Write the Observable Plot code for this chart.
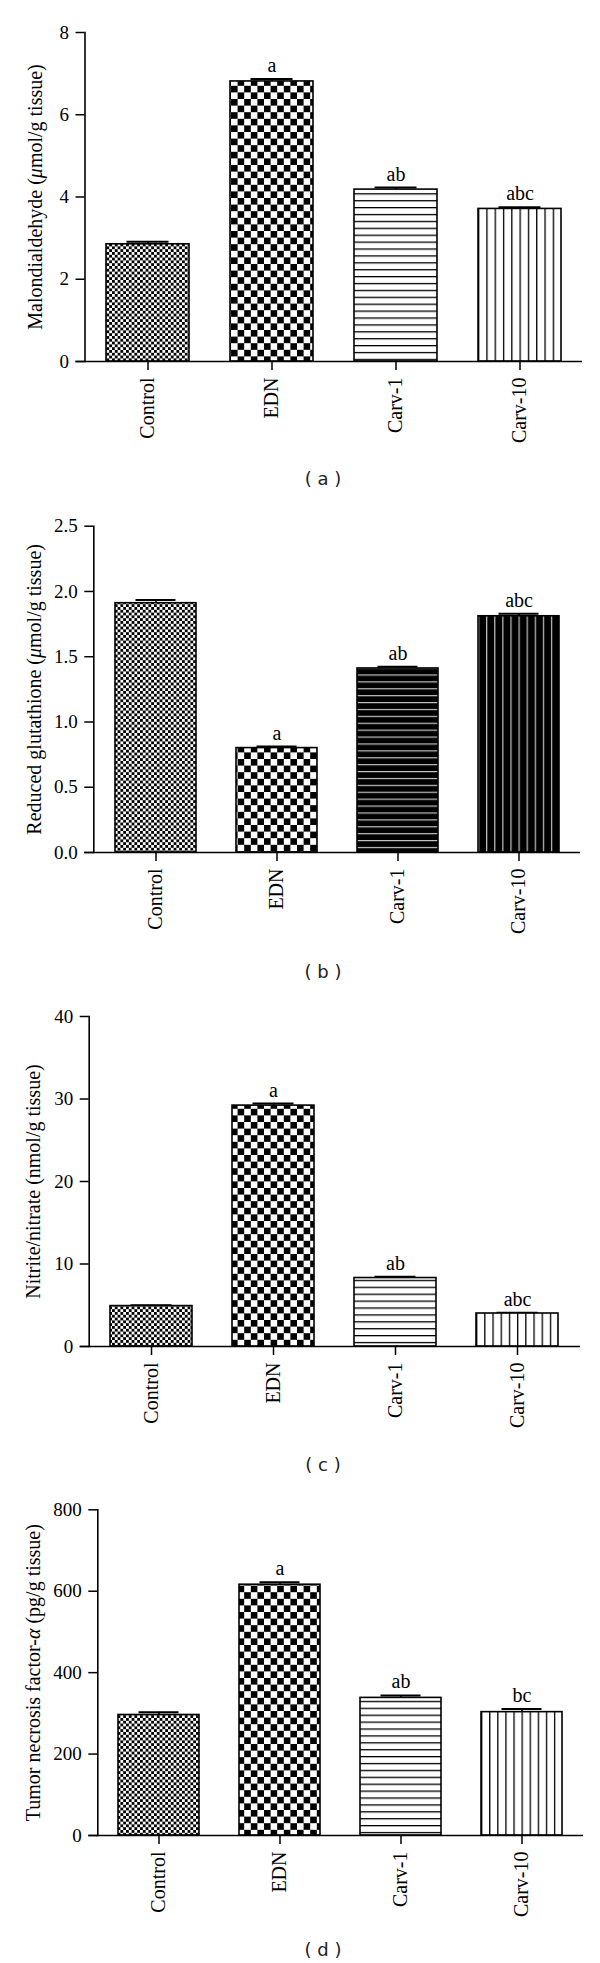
<!DOCTYPE html>
<html><head><meta charset="utf-8">
<script src="https://cdn.jsdelivr.net/npm/d3@7"></script>
<script src="https://cdn.jsdelivr.net/npm/@observablehq/plot@0.6"></script>
<style>
body{margin:0;background:#fff;}
#root{position:relative;width:600px;height:1963px;overflow:hidden;background:#fff;}
.panel{position:absolute;left:0;}
.cap{position:absolute;left:263px;width:120px;text-align:center;font-family:"DejaVu Sans";font-size:18px;color:#222;line-height:20px;white-space:pre;}
</style></head><body><div id="root"></div>
<script>
// ---- data ----
const categories = ["Control", "EDN", "Carv-1", "Carv-10"];

const mdaValues = [2.85, 6.81, 4.18, 3.71];
const mdaErrors = [0.06, 0.06, 0.05, 0.04];
const mdaSig = ["", "a", "ab", "abc"];
const mdaTicks = [0, 2, 4, 6, 8];

const gshValues = [1.91, 0.80, 1.41, 1.81];
const gshErrors = [0.025, 0.012, 0.013, 0.02];
const gshSig = ["", "a", "ab", "abc"];
const gshTicks = [0, 0.5, 1.0, 1.5, 2.0, 2.5];

const noxValues = [4.9, 29.2, 8.3, 4.0];
const noxErrors = [0.1, 0.25, 0.15, 0.08];
const noxSig = ["", "a", "ab", "abc"];
const noxTicks = [0, 10, 20, 30, 40];

const tnfValues = [296, 616, 338, 303];
const tnfErrors = [7, 6, 6, 8];
const tnfSig = ["", "a", "ab", "bc"];
const tnfTicks = [0, 200, 400, 600, 800];

const captions = ["( a )", "( b )", "( c )", "( d )"];

// ---- panels ----
const root = document.getElementById("root");

function patternDefs(p, dark) {
  const bg = dark ? "#000" : "#fff";
  const fg = dark ? "#c4c4c4" : "#000";
  const lw = dark ? 1.2 : 1.3;
  return () => {
    const defs = d3.create("svg:defs");
    defs.html(
      `<pattern id="${p}-fine" patternUnits="userSpaceOnUse" width="5.6" height="5.6"><rect width="5.6" height="5.6" fill="#fff"/><rect width="2.8" height="2.8" fill="#000"/><rect x="2.8" y="2.8" width="2.8" height="2.8" fill="#000"/></pattern>` +
      `<pattern id="${p}-coarse" patternUnits="userSpaceOnUse" width="13.2" height="13.2"><rect width="13.2" height="13.2" fill="#fff"/><rect width="6.6" height="6.6" fill="#000"/><rect x="6.6" y="6.6" width="6.6" height="6.6" fill="#000"/></pattern>` +
      `<pattern id="${p}-hl" patternUnits="userSpaceOnUse" width="20" height="6.9"><rect width="20" height="6.9" fill="${bg}"/><rect y="0" width="20" height="${lw}" fill="${fg}"/></pattern>` +
      `<pattern id="${p}-vl" patternUnits="objectBoundingBox" width="0.1" height="1"><rect width="40" height="3000" fill="${bg}"/><rect x="0" width="${lw}" height="3000" fill="${fg}"/></pattern>`
    );
    return defs.node();
  };
}

function makePanel(cfg) {
  const rows = categories.map((g, i) => ({group: g, value: cfg.values[i], err: cfg.errors[i], sig: cfg.sig[i], i}));
  const kinds = ["fine", "coarse", "hl", "vl"];
  const bars = kinds.map((k, i) =>
    Plot.barY(rows.filter(r => r.i === i), {x: "group", y: "value", fill: `url(#${cfg.id}-${k})`, stroke: "black", strokeWidth: 1.6})
  );
  const plot = Plot.plot({
    width: 600,
    height: cfg.height,
    marginTop: cfg.mT, marginBottom: cfg.mB, marginLeft: cfg.mL, marginRight: cfg.mR,
    style: {fontFamily: "Liberation Serif", fontSize: "19px", color: "black", background: "transparent", overflow: "visible"},
    x: {domain: categories, paddingInner: 0.33, paddingOuter: 0.165},
    y: {domain: [0, cfg.yMax]},
    marks: [
      patternDefs(cfg.id, cfg.dark),
      Plot.ruleX(rows, {x: "group", y1: "value", y2: d => d.value + d.err, stroke: "black", strokeWidth: 1.6}),
      Plot.tickY(rows, {x: "group", y: d => d.value + d.err, stroke: "black", strokeWidth: 2, insetLeft: 20.5, insetRight: 20.5}),
      ...bars,
      Plot.text(rows.filter(r => r.sig), {x: "group", y: d => d.value + d.err, text: "sig", dy: -7, lineAnchor: "bottom", fontSize: 20, fill: "black"}),
      Plot.frame({anchor: "left", stroke: "black", strokeWidth: 1.6}),
      Plot.ruleY([0], {stroke: "black", strokeWidth: 1.6, insetLeft: -9}),
      Plot.axisY({ticks: cfg.ticks, tickFormat: cfg.fmt, tickSize: 9, tickPadding: 7, fontSize: 19, label: null, strokeWidth: 1.5}),
      Plot.axisX({tickSize: 9, tickPadding: 7, tickRotate: -90, fontSize: 20, label: null, strokeWidth: 1.5}),
      Plot.text([cfg.label.join("")], {frameAnchor: "left", rotate: -90, dx: -(cfg.mL - cfg.labelX), text: d => d, textAnchor: "middle", lineAnchor: "middle", fontSize: 20, fill: "black", className: "ylab-" + cfg.id})
    ]
  });
  // italic Greek letter in y label
  const t = plot.querySelector(".ylab-" + cfg.id + " text");
  if (t) {
    t.textContent = "";
    cfg.label.forEach((part, k) => {
      const ts = document.createElementNS("http://www.w3.org/2000/svg", "tspan");
      ts.textContent = part;
      if (k === 1) ts.setAttribute("font-style", "italic");
      t.appendChild(ts);
    });
  }
  plot.classList.add("panel");
  plot.style.top = cfg.top + "px";
  root.appendChild(plot);
}

makePanel({id: "pa", top: 0, height: 470, mT: 32, mB: 109, mL: 84.5, mR: 18, labelX: 35.3,
  values: mdaValues, errors: mdaErrors, sig: mdaSig, yMax: 8, ticks: mdaTicks, fmt: d3.format("d"),
  label: ["Malondialdehyde (", "\u03bc", "mol/g tissue)"], dark: false});
makePanel({id: "pb", top: 495, height: 460, mT: 30.7, mB: 103, mL: 93.3, mR: 20, labelX: 34.3,
  values: gshValues, errors: gshErrors, sig: gshSig, yMax: 2.5, ticks: gshTicks, fmt: d3.format(".1f"),
  label: ["Reduced glutathione (", "\u03bc", "mol/g tissue)"], dark: true});
makePanel({id: "pc", top: 990, height: 460, mT: 26, mB: 104, mL: 88.7, mR: 20, labelX: 33,
  values: noxValues, errors: noxErrors, sig: noxSig, yMax: 40, ticks: noxTicks, fmt: d3.format("d"),
  label: ["Nitrite/nitrate (nmol/g tissue)"], dark: false});
makePanel({id: "pd", top: 1480, height: 450, mT: 29.3, mB: 95, mL: 97.3, mR: 17, labelX: 33,
  values: tnfValues, errors: tnfErrors, sig: tnfSig, yMax: 800, ticks: tnfTicks, fmt: d3.format("d"),
  label: ["Tumor necrosis factor-", "\u03b1", " (pg/g tissue)"], dark: false});

const capY = [479, 971.5, 1465, 1950];
captions.forEach((c, i) => {
  const div = document.createElement("div");
  div.className = "cap";
  div.style.top = (capY[i] - 10) + "px";
  div.textContent = c;
  root.appendChild(div);
});
</script>
</body></html>
